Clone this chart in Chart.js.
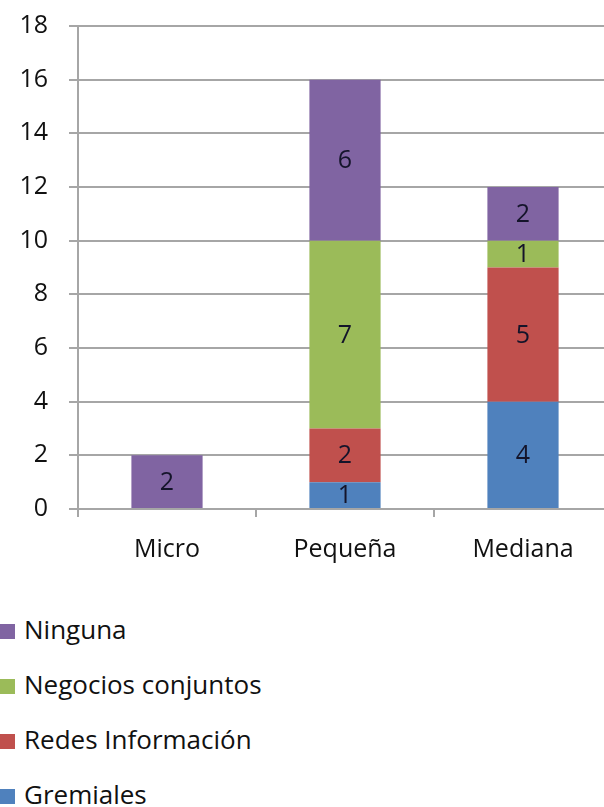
<!DOCTYPE html>
<html lang="es">
<head>
    <meta charset="UTF-8">
    <title>Empresas por tamaño</title>
    <style>
        html, body {
            margin: 0;
            padding: 0;
            background: #fff;
            overflow: hidden;
            font-family: 'Open Sans', Arial, sans-serif;
        }
        #wrap {
            width: 612px;
            height: 580px;
            margin-top: -10px;
        }
        #legend {
            list-style: none;
            margin: 0;
            padding: 0;
            position: absolute;
            left: 0;
            top: 609px;
        }
        #legend li {
            height: 55px;
            line-height: 40px;
            font-size: 26px;
            color: #111;
        }
        #legend span {
            display: inline-block;
            width: 15px;
            height: 15px;
            margin-right: 9px;
        }
    </style>
</head>
<body>
    <div id="wrap"><canvas id="chart" width="612" height="580"></canvas></div>
    <ul id="legend"></ul>
    <script src="https://cdn.jsdelivr.net/npm/chart.js"></script>
    <script>
        const categories = ['Micro', 'Pequeña', 'Mediana'];
        const gremiales = [0, 1, 4];
        const redes = [0, 2, 5];
        const negocios = [0, 7, 1];
        const ninguna = [2, 6, 2];
        const yTicks = [0, 2, 4, 6, 8, 10, 12, 14, 16, 18];

        const gray = '#a6a6a6';
        const txt = '#111';

        // writes the value in the middle of each segment
        const valueLabels = {
            id: 'valueLabels',
            afterDatasetsDraw(chart) {
                const c = chart.ctx;
                c.save();
                c.font = '25px "Open Sans"';
                c.fillStyle = '#14142a';
                c.textAlign = 'center';
                c.textBaseline = 'middle';
                chart.data.datasets.forEach((ds, i) => {
                    chart.getDatasetMeta(i).data.forEach((bar, j) => {
                        if (!ds.data[j]) return;
                        const mid = (bar.y + bar.base) / 2;
                        c.fillText(ds.data[j], bar.x, mid + 1);
                    });
                });
                c.restore();
            }
        };

        const ctx = document.getElementById('chart').getContext('2d');
        const chart = new Chart(ctx, {
            type: 'bar',
            data: {
                labels: categories,
                datasets: [
                    { label: 'Gremiales', data: gremiales, backgroundColor: '#4f81bd' },
                    { label: 'Redes Información', data: redes, backgroundColor: '#c0504d' },
                    { label: 'Negocios conjuntos', data: negocios, backgroundColor: '#9bbb59' },
                    { label: 'Ninguna', data: ninguna, backgroundColor: '#8064a2' }
                ]
            },
            options: {
                responsive: false,
                animation: false,
                layout: { padding: { top: 8, right: 0, left: 0, bottom: 0 } },
                plugins: { legend: { display: false }, tooltip: { enabled: false } },
                datasets: { bar: { categoryPercentage: 1, barPercentage: 0.4 } },
                scales: {
                    x: {
                        stacked: true,
                        grid: { drawOnChartArea: false, offset: true, color: gray, lineWidth: 2, tickLength: 8 },
                        border: { color: gray, width: 2 },
                        ticks: { color: txt, font: { family: 'Open Sans', size: 25 }, padding: 18 },
                        afterFit(scale) { scale.height = 61; }
                    },
                    y: {
                        stacked: true,
                        min: 0,
                        max: 18,
                        afterBuildTicks(scale) { scale.ticks = yTicks.map(v => ({ value: v })); },
                        grid: { color: gray, lineWidth: 2, tickLength: 9 },
                        border: { color: gray, width: 2 },
                        ticks: { color: txt, font: { family: 'Open Sans', size: 25 }, padding: 21 },
                        afterFit(scale) { scale.width = 78; }
                    }
                }
            },
            plugins: [valueLabels]
        });

        // legend in the order of the picture: top of the stack first
        const legend = document.getElementById('legend');
        chart.data.datasets.slice().reverse().forEach(ds => {
            const li = document.createElement('li');
            li.innerHTML = '<span style="background:' + ds.backgroundColor + '"></span>' + ds.label;
            legend.appendChild(li);
        });
    </script>
</body>
</html>
